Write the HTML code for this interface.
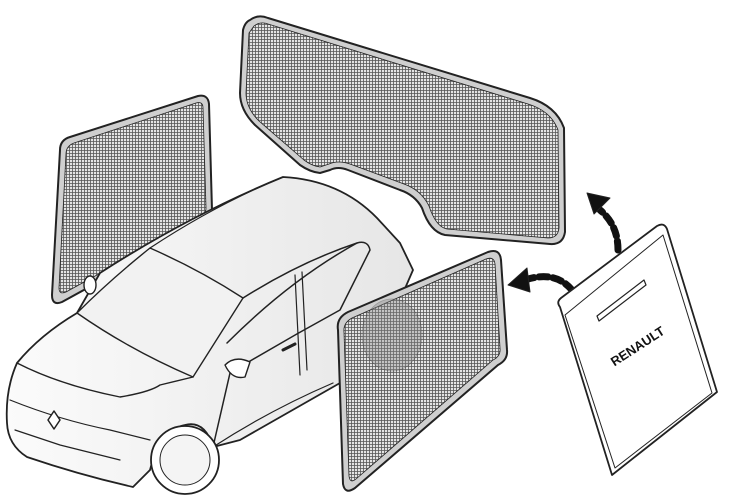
<!DOCTYPE html>
<html><head><meta charset="utf-8"><style>
html,body{margin:0;padding:0;background:#fff;width:737px;height:503px;overflow:hidden}
</style></head><body>
<svg width="737" height="503" viewBox="0 0 737 503" xmlns="http://www.w3.org/2000/svg">
<defs>
<pattern id="m" width="3" height="3" patternUnits="userSpaceOnUse">
<rect width="3" height="3" fill="#e4e4e4"/>
<path d="M0 0.5H3M0.5 0V3" stroke="#555" stroke-width="0.8"/>
</pattern>
<linearGradient id="cg" x1="0" y1="0" x2="1" y2="0">
<stop offset="0" stop-color="#fbfbfb"/><stop offset="1" stop-color="#e6e6e6"/>
</linearGradient>
</defs>
<g stroke="#222" stroke-linejoin="round" stroke-linecap="round">
<!-- rear panel -->
<path d="M250 20 Q258 14 268 18 L530 98 Q556 106 564 128 L565 232 Q563 245 550 244 L445 235 Q430 232 422 208 Q415 195 400 190 L348 170 Q338 166 330 170 L320 173 Q310 172 300 165 L255 125 Q240 110 240 93 L243 30 Q245 22 250 20 Z" fill="#cfcfcf" stroke-width="2"/>
<path d="M254 26 Q260 21 268 24 L528 104 Q551 111 558 130 L559 228 Q558 238 548 238 L447 229 Q436 227 429 206 Q421 190 404 184 L350 164 Q338 160 329 164 L320 167 Q312 166 304 160 L259 121 Q246 108 246 93 L249 33 Z" fill="url(#m)" stroke-width="0.8"/>
<!-- left panel -->
<path d="M60 150 Q60 140 70 137 L198 96 Q208 94 209 104 L212 210 Q212 220 202 225 L62 302 Q52 306 52 295 Z" fill="#cfcfcf" stroke-width="2"/>
<path d="M66 154 Q66 146 74 143 L196 103 Q203 101 203 108 L206 208 Q206 215 199 219 L66 292 Q59 295 59 288 Z" fill="url(#m)" stroke-width="0.8"/>
<!-- car body -->
<path d="M17 363 Q40 335 77 313 L100 273 Q190 215 283 177 Q340 180 377 218 L400 243 L413 270 L400 300 L360 320 L340 383 L240 440 L213 447 Q205 420 185 425 Q160 430 150 470 L133 487 Q80 475 27 457 Q8 445 7 423 Q5 390 17 363 Z" fill="url(#cg)" stroke-width="1.8"/>
<path d="M77 313 Q130 350 193 377 L243 298 Q200 270 150 248 Q110 280 77 313 Z" fill="#f2f2f2" stroke-width="1.4"/>
<path d="M150 248 Q215 205 283 177" fill="none" stroke-width="1.2"/>
<path d="M243 298 Q300 262 357 243 Q368 240 370 250 L340 310 Q285 340 230 373 L213 447" fill="none" stroke-width="1.5"/>
<path d="M227 343 Q290 280 357 243" fill="none" stroke-width="1.5"/>
<path d="M295 275 L300 375 M302 272 L307 370" fill="none" stroke-width="1.2"/>
<path d="M213 447 Q270 410 333 383" fill="none" stroke-width="1.2"/>
<path d="M17 363 Q60 385 120 397 Q150 392 160 385 L193 377" fill="none" stroke-width="1.4"/>
<path d="M10 400 Q60 420 110 430 Q130 435 150 440" fill="none" stroke-width="1.2"/>
<path d="M15 430 L60 445 L120 460" fill="none" stroke-width="1.2"/>
<circle cx="185" cy="460" r="34" fill="#fff" stroke-width="1.8"/>
<circle cx="185" cy="460" r="25" fill="#f4f4f4" stroke-width="1"/>
<path d="M48 420 l6 -9 l6 9 l-6 9 Z" fill="#fff" stroke-width="1.5"/>
<ellipse cx="90" cy="285" rx="6" ry="9" fill="#fff" stroke-width="1.4"/>
<path d="M225 365 Q235 355 250 362 L245 377 Q232 380 225 365 Z" fill="#fff" stroke-width="1.4"/>
<path d="M283 350 l12 -6" stroke-width="3"/>
<!-- right panel -->
<path d="M338 330 Q336 318 348 312 L488 252 Q500 248 501 260 L507 350 Q508 360 498 365 L355 488 Q345 495 343 484 Z" fill="#cfcfcf" stroke-width="2"/>
<path d="M344 332 Q343 323 352 318 L486 259 Q494 256 495 264 L500 348 Q501 356 493 360 L356 479 Q350 484 349 476 Z" fill="url(#m)" stroke-width="0.8"/>
<ellipse cx="392" cy="335" rx="30" ry="36" fill="#888" opacity="0.35" stroke="#333" stroke-width="0.8"/>
<!-- arrows -->
<path d="M572 290 Q555 270 525 280" fill="none" stroke="#111" stroke-width="7" stroke-dasharray="9 5"/>
<path d="M508 285 L527 268 L530 292 Z" fill="#111"/>
<path d="M618 250 Q618 225 600 210" fill="none" stroke="#111" stroke-width="7" stroke-dasharray="9 5"/>
<path d="M587 193 L610 198 L594 214 Z" fill="#111"/>
<!-- bag -->
<path d="M570 300 Q585 285 600 275 L650 240 Q660 236 662 244 L575 306 Z" fill="url(#m)" stroke-width="1.2"/>
<path d="M598 292 Q603 262 620 260 Q632 260 636 272 Z" fill="url(#m)" stroke-width="2"/>
<path d="M560 307 Q556 302 561 298 L657 226 Q664 222 667 229 L717 392 L612 475 Z" fill="#fff" stroke-width="1.8"/>
<path d="M565 315 L663 235 L712 393 L615 468 Z" fill="none" stroke-width="1"/>
<path d="M597 316 L644 280 L646 285 L599 321 Z" fill="#fff" stroke-width="1.2"/>
</g>
<text x="640" y="350" transform="rotate(-33 640 350)" text-anchor="middle" font-family="Liberation Sans, sans-serif" font-weight="bold" font-size="13" fill="#111">RENAULT</text>
</svg>
</body></html>
